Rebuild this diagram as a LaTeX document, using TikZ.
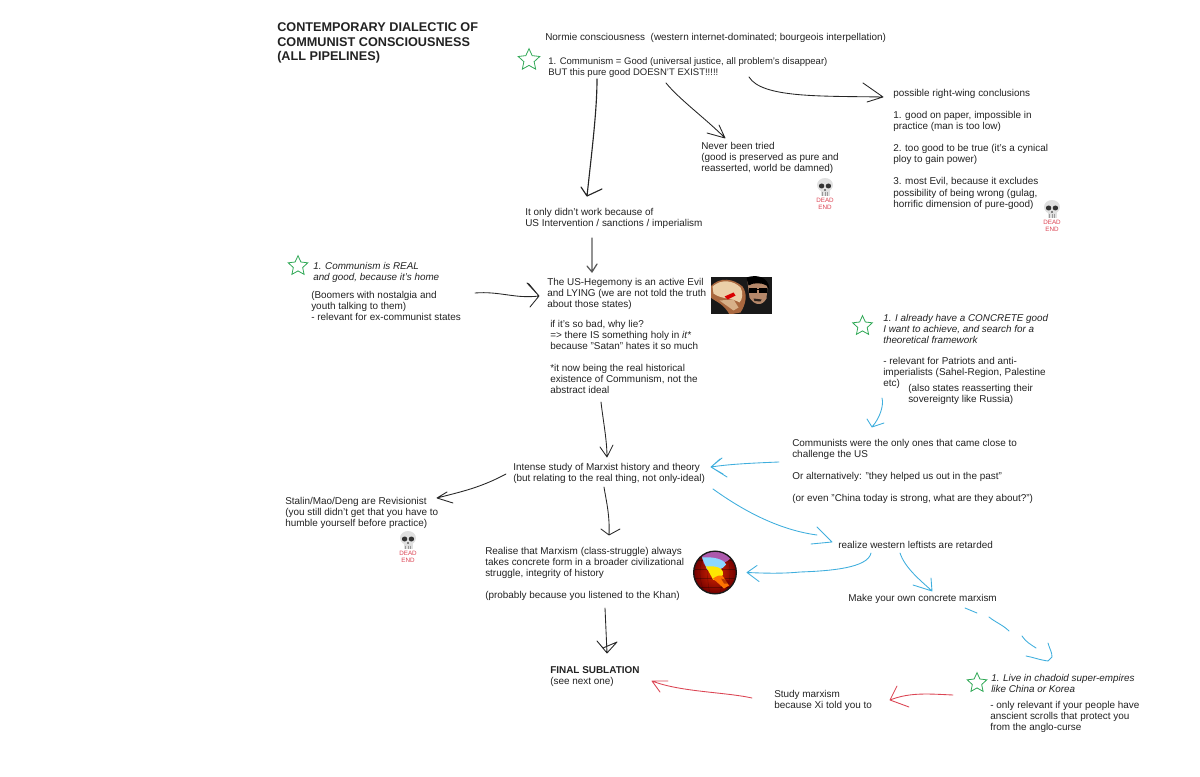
\documentclass[tikz,border=0pt]{standalone}
\usepackage{fontspec}
\setmainfont{Liberation Sans}
\usetikzlibrary{shapes.geometric}
\definecolor{inktext}{HTML}{222222}
\definecolor{inkblue}{HTML}{3FAEDD}
\definecolor{inkred}{HTML}{DB4453}
\definecolor{inkgreen}{HTML}{2FA855}
\definecolor{handlight}{HTML}{EBCFA8}
\definecolor{handdark}{HTML}{A9683F}
\definecolor{faceskin}{HTML}{B5886A}
\tikzset{
	txt/.style={anchor=north west,inner xsep=0pt,inner ysep=0.75pt,align=left,text=inktext,font=\fontsize{7.45}{8.3}\selectfont},
	txtit/.style={txt,font=\fontsize{7.4}{8.3}\selectfont\itshape},
	goodstar/.style={star,star points=5,star point ratio=2.1,draw=inkgreen,fill=white,line width=0.6pt,minimum size=15.5pt,inner sep=0pt},
	blackline/.style={draw=black!85,line width=0.65pt,line cap=round,line join=round},
	greyline/.style={draw=black!65,line width=0.95pt,line cap=round,line join=round},
	blueline/.style={draw=inkblue,line width=0.65pt,line cap=round,line join=round},
	redline/.style={draw=inkred,line width=0.65pt,line cap=round,line join=round},
	deadend/.pic={
		\fill[black!12] (0,-2) ellipse (8 and 7);
		\fill[black!12] (-4.5,2) rectangle (4.5,9);
		\fill[black!80] (-3.4,-1) ellipse (2.7 and 2.5);
		\fill[black!80] (3.4,-1) ellipse (2.7 and 2.5);
		\fill[black!50] (-0.6,2.4) rectangle (0.6,3.8);
		\foreach \t in {-2.5,0,2.5}
			\draw[black!40,line width=0.3pt] (\t,5.5) -- (\t,9);
		\node[inner sep=0pt,align=center,text=inkred,font=\fontsize{4.7}{5.3}\selectfont] (-label) at (0,16.5) {DEAD\\END};
	}
}
\begin{document}
\begin{tikzpicture}[x=0.75pt,y=-0.75pt]
	\useasboundingbox (0,0) rectangle (1200,777);
	% texts, top to bottom
	\node[txt,font=\fontsize{9.5}{11.2}\selectfont\bfseries] (title) at (277,21) {CONTEMPORARY DIALECTIC OF\\COMMUNIST CONSCIOUSNESS\\(ALL PIPELINES)};
	\node[txt] (normie) at (545,32) {Normie consciousness\ \ (western internet-dominated; bourgeois interpellation)};
	\node[txt,font=\fontsize{7.15}{8.3}\selectfont] (good) at (548,56) {1. Communism = Good (universal justice, all problem's disappear)\\BUT this pure good DOESN'T EXIST!!!!!};
	\node[txt] (concl) at (893,88) {possible right-wing conclusions\\[8.3pt]1. good on paper, impossible in\\practice (man is too low)\\[8.3pt]2. too good to be true (it's a cynical\\ploy to gain power)\\[8.3pt]3. most Evil, because it excludes\\possibility of being wrong (gulag,\\horrific dimension of pure-good)};
	\node[txt] (never) at (701,141) {Never been tried\\(good is preserved as pure and\\reasserted, world be damned)};
	\node[txt] (only) at (525,207) {It only didn't work because of\\US Intervention / sanctions / imperialism};
	\node[txtit] (real) at (313,261) {1. Communism is REAL\\and good, because it's home};
	\node[txt] (boomers) at (311,290) {(Boomers with nostalgia and\\youth talking to them)\\- relevant for ex-communist states};
	\node[txt] (us) at (547,277) {The US-Hegemony is an active Evil\\and LYING (we are not told the truth\\about those states)};
	\node[txt] (lie) at (550,319) {if it's so bad, why lie?\\=> there IS something holy in \emph{it}*\\because "Satan" hates it so much\\[8.3pt]*it now being the real historical\\existence of Communism, not the\\abstract ideal};
	\node[txtit] (concrete) at (883,313) {1. I already have a CONCRETE good\\I want to achieve, and search for a\\theoretical framework};
	\node[txt] (relevant) at (883,356) {- relevant for Patriots and anti-\\imperialists (Sahel-Region, Palestine\\etc)};
	\node[txt] (also) at (908,383) {(also states reasserting their\\sovereignty like Russia)};
	\node[txt] (comms) at (792,438) {Communists were the only ones that came close to\\challenge the US\\[8.3pt]Or alternatively: "they helped us out in the past"\\[8.3pt](or even "China today is strong, what are they about?")};
	\node[txt] (intense) at (513,462) {Intense study of Marxist history and theory\\(but relating to the real thing, not only-ideal)};
	\node[txt] (stalin) at (285,496) {Stalin/Mao/Deng are Revisionist\\(you still didn't get that you have to\\humble yourself before practice)};
	\node[txt] (realize) at (838,540) {realize western leftists are retarded};
	\node[txt] (realise) at (485,546) {Realise that Marxism (class-struggle) always\\takes concrete form in a broader civilizational\\struggle, integrity of history\\[8.3pt](probably because you listened to the Khan)};
	\node[txt] (make) at (848,593) {Make your own concrete marxism};
	\node[txt] (final) at (550,665) {\textbf{FINAL SUBLATION}\\(see next one)};
	\node[txt] (study) at (774,689) {Study marxism\\because Xi told you to};
	\node[txtit] (live) at (991,673) {1. Live in chadoid super-empires\\like China or Korea};
	\node[txt] (scrolls) at (990,700) {- only relevant if your people have\\anscient scrolls that protect you\\from the anglo-curse};
	% stars
	\node[goodstar,minimum size=17pt] (star1) at (529,60) {};
	\node[goodstar] (star2) at (298,266) {};
	\node[goodstar] (star3) at (862.5,326) {};
	\node[goodstar] (star4) at (977,683) {};
	% the two pictures
	\node[inner sep=0pt,minimum width=45.75pt,minimum height=27.75pt,fill=black!90,
		path picture={
			\begin{scope}[shift={(path picture bounding box.center)}]
				\fill[handdark] (-31,-9) .. controls (-22,-19) and (-8,-17) .. (1,-9) .. controls (6,-2) and (5,8) .. (-1,17) -- (-12,19) .. controls (-18,8) and (-26,6) .. (-31,2) -- cycle;
				\fill[handlight] (-29,-9) .. controls (-20,-17) and (-8,-15) .. (-1,-8) .. controls (2,-3) and (1,4) .. (-2,7) .. controls (-10,2) and (-20,4) .. (-28,-2) -- cycle;
				\fill[handlight!70!handdark] (-22,5) -- (-8,4) -- (-3,12) -- (-8,15) -- cycle;
				\fill[red!85!black] (-17,1) -- (-8,-3) -- (-6,0) -- (-14,4) -- cycle;
				\fill[faceskin] (6,-14) .. controls (12,-18) and (24,-18) .. (26,-10) -- (25,3) .. controls (20,12) and (12,9) .. (8,2) -- cycle;
				\fill[black] (5,-18) .. controls (14,-21) and (27,-20) .. (28,-6) -- (25,-10) .. controls (21,-13) and (11,-13) .. (7,-10) -- cycle;
				\fill[black] (7,-7) rectangle (15,-2.5);
				\fill[black] (17,-7) rectangle (25,-2.5);
				\draw[black] (15,-6) -- (17,-6);
				\fill[black!75!faceskin] (12,3) -- (20,4) -- (19,6) -- (13,5.5) -- cycle;
			\end{scope}
		}] (pill) at (741.5,295.5) {};
	\node[circle,inner sep=0pt,minimum size=32pt,draw=black!90,line width=1pt,inner color=red!65!orange!85!black,outer color=red!45!black,
		path picture={
			\begin{scope}[shift={(path picture bounding box.center)}]
				\foreach \g in {-14,-7,7,14}
					\draw[black,opacity=0.3,line width=0.25pt] (\g*0.7,-22) .. controls (\g*1.2,-6) and (\g*1.2,6) .. (\g*0.7,22);
				\foreach \g in {-12,-3,6,15}
					\draw[black,opacity=0.3,line width=0.25pt] (-22,\g) -- (22,\g);
				\fill[violet!65!white] (-14,-20) .. controls (-6,-25) and (12,-23) .. (15,-14) .. controls (12,-8) and (-4,-9) .. (-11,-8) -- cycle;
				\fill[blue!35!cyan!45!white] (-13,-15) .. controls (-4,-16) and (9,-14) .. (11,-8) .. controls (8,-2) and (-2,-2) .. (-8,-3) -- cycle;
				\fill[yellow!90!orange] (-9,-6) .. controls (0,-7) and (9,-5) .. (8,2) .. controls (6,8) and (1,9) .. (-2,7) -- cycle;
				\fill[orange!90!red] (-2,6) .. controls (2,3) and (6,2) .. (8,4) -- (14,13) -- (9,16) -- cycle;
				\fill[red!45!black,opacity=0.5] (6,6) -- (14,8) -- (15,11) -- (9,11) -- cycle;
			\end{scope}
		}] (globe) at (715,572.5) {};
	% skulls
	\pic (dead1) at (825,187) {deadend};
	\pic (dead2) at (1052,209) {deadend};
	\pic (dead3) at (408,540) {deadend};
	% black arrows
	\draw[blackline,line width=0.85pt] ([shift={(49,23)}]good.north west) .. controls (597,110) and (592,150) .. ([shift={(62,-11)}]only.north west) -- ++(-6,-9) ++(6,9) -- ++(15,-7);
	\draw[blackline] ([shift={(118,27)}]good.north west) .. controls (680,100) and (705,118) .. ([shift={(24,-3)}]never.north west) -- ++(-18,-5) ++(18,5) -- ++(-6,-13);
	\draw[blackline] ([shift={(201,21)}]good.north west) .. controls (762,98) and (820,96) .. ([shift={(-10,9)}]concl.north west) -- ++(-20,-14) ++(20,14) -- ++(-16,5);
	\draw[greyline] ([shift={(67,31)}]only.north west) -- ([shift={(45,-5)}]us.north west) -- ++(-5,-6) ++(5,6) -- ++(5,-8);
	\draw[blackline] ([shift={(164,3)}]boomers.north west) .. controls (500,291) and (515,299) .. ([shift={(-8,19)}]us.north west) -- ++(-12,-13) -- ++(2,1) -- ++(10,12) -- ++(-9,11);
	\draw[blackline] ([shift={(51,83)}]lie.north west) .. controls (603,420) and (607,440) .. ([shift={(94,-5)}]intense.north west) -- ++(-7,-10) ++(7,10) -- ++(6,-12);
	\draw[blackline] ([shift={(-7,12)}]intense.north west) .. controls (480,488) and (460,492) .. ([shift={(152,2)}]stalin.north west) -- ++(10,-6) ++(-10,6) -- ++(16,5);
	\draw[blackline] ([shift={(91,25)}]intense.north west) .. controls (606,500) and (610,515) .. ([shift={(124,-11)}]realise.north west) -- ++(-8,-6) ++(8,6) -- ++(11,-6);
	\draw[blackline] ([shift={(120,62)}]realise.north west) -- ([shift={(57,-12)}]final.north west) -- ++(-10,-12) -- ++(6,7) -- ++(14,-6) ++(-10,11) -- ++(10,-11);
	% blue arrows
	\draw[blueline] ([shift={(-26,15)}]also.north west) .. controls (884,405) and (880,418) .. ([shift={(80,-11)}]comms.north west) -- ++(-5,-8) ++(5,8) -- ++(12,-4);
	\draw[blueline] ([shift={(-13,24)}]comms.north west) .. controls (755,463) and (730,464) .. ([shift={(198,5)}]intense.north west) -- ++(11,-9) ++(-11,9) -- ++(16,10) ++(-16,-10) -- ++(9,-8) ++(-9,8) -- ++(12,7);
	\draw[blueline] ([shift={(200,27)}]intense.north west) .. controls (745,512) and (780,530) .. ([shift={(-21,-5)}]realize.north west);
	\draw[blueline] ([shift={(-21,-13)}]realize.north west) -- ([shift={(-6,2)}]realize.north west) -- ([shift={(-27,4)}]realize.north west);
	\draw[blueline] ([shift={(33,13)}]realize.north west) .. controls (868,568) and (830,571) .. (800,572) .. controls (780,574) and (760,573) .. ([shift={(10,0)}]globe.east) -- ++(10,-7) ++(-10,7) -- ++(12,9);
	\draw[blueline] ([shift={(62,13)}]realize.north west) .. controls (905,568) and (920,580) .. ([shift={(84,-2)}]make.north west) -- ++(-19,-6) ++(19,6) -- ++(-1,-13);
	\draw[blueline] ([shift={(117,15)}]make.north west) -- ([shift={(129,20)}]make.north west) ([shift={(141,24)}]make.north west) .. controls (995,622) and (1003,625) .. ([shift={(161,38)}]make.north west) ([shift={(174,43)}]make.north west) .. controls (1026,642) and (1030,644) .. ([shift={(188,55)}]make.north west);
	\draw[blueline] ([shift={(57,-30)}]live.north west) .. controls (1050,650) and (1052,652) .. ([shift={(61,-16)}]live.north west) -- ([shift={(57,-12)}]live.north west) .. controls (1040,660) and (1032,657) .. ([shift={(35,-17)}]live.north west);
	% red arrows
	\draw[redline] ([shift={(-38,22)}]live.north west) .. controls (930,694) and (910,692) .. ([shift={(116,11)}]study.north west) -- ++(7,-14) ++(-7,14) -- ++(19,7);
	\draw[redline] ([shift={(-22,9)}]study.north west) .. controls (725,692) and (680,692) .. ([shift={(102,16)}]final.north west) -- ++(16,0) ++(-16,0) -- ++(8,11);
\end{tikzpicture}
\end{document}
